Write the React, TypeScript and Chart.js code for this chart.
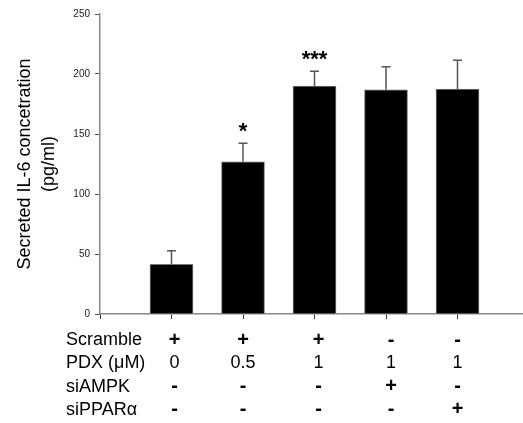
import React, { useEffect, useRef } from "react";
import { Chart, registerables } from "chart.js";

Chart.register(...registerables);

const groups = [1, 2, 3, 4, 5];
const means = [41.4, 126.9, 190.0, 186.9, 187.5];
const errors = [11.4, 15.3, 12.2, 19.2, 23.9];
const stars = ["", "*", "***", "", ""];
const rowLabels = ["Scramble", "PDX (\u03bcM)", "siAMPK", "siPPAR\u03b1"];
const scramble = ["+", "+", "+", "-", "-"];
const pdx = ["0", "0.5", "1", "1", "1"];
const siAMPK = ["-", "-", "-", "+", "-"];
const siPPAR = ["-", "-", "-", "-", "+"];
const yTicks = [0, 50, 100, 150, 200, 250];

const FONT = "Arial, 'Liberation Sans', sans-serif";

export default function App() {
  const ref = useRef<HTMLCanvasElement | null>(null);

  useEffect(() => {
    const canvas = ref.current;
    if (!canvas) return;

    const overlay = {
      id: "overlay",
      afterDatasetsDraw(chart: any) {
        const ctx = chart.ctx;
        const xs = chart.scales.x;
        const ys = chart.scales.y;
        ctx.save();
        ctx.strokeStyle = "#555";
        ctx.lineWidth = 1.5;
        groups.forEach((g, i) => {
          const x = xs.getPixelForValue(g);
          const y0 = ys.getPixelForValue(means[i]);
          const y1 = ys.getPixelForValue(means[i] + errors[i]);
          ctx.beginPath();
          ctx.moveTo(x, y0);
          ctx.lineTo(x, y1);
          ctx.moveTo(x - 4.5, y1);
          ctx.lineTo(x + 4.5, y1);
          ctx.stroke();
          if (stars[i]) {
            ctx.fillStyle = "#000";
            ctx.font = `bold 22px ${FONT}`;
            ctx.textAlign = "center";
            ctx.textBaseline = "middle";
            ctx.fillText(stars[i], x, y1 - 11);
          }
        });
        ctx.restore();
      },
      afterDraw(chart: any) {
        const ctx = chart.ctx;
        const xs = chart.scales.x;
        const bottom = chart.chartArea.bottom;
        const colOffsets = [3, 0, 4, 5, 0];
        const rows = [scramble, pdx, siAMPK, siPPAR];
        ctx.save();
        ctx.fillStyle = "#000";
        ctx.font = `18px ${FONT}`;
        ctx.textBaseline = "middle";
        rows.forEach((row, r) => {
          const y = bottom + 26 + r * 23.3;
          ctx.textAlign = "left";
          ctx.fillText(rowLabels[r], 66, y);
          ctx.textAlign = "center";
          row.forEach((v, i) => {
            const x = xs.getPixelForValue(groups[i]) + colOffsets[i];
            ctx.font = v === "+" || v === "-" ? `bold 20px ${FONT}` : `18px ${FONT}`;
            ctx.fillText(v, x, y);
          });
          ctx.font = `18px ${FONT}`;
        });
        ctx.restore();
      },
    };

    const chart = new Chart(canvas, {
      type: "bar",
      data: {
        datasets: [
          {
            data: groups.map((g, i) => ({ x: g, y: means[i] })),
            backgroundColor: "#000",
            borderColor: "#777",
            borderWidth: 1,
            barThickness: 43,
          },
        ],
      },
      options: {
        animation: false,
        responsive: false,
        maintainAspectRatio: false,
        layout: { padding: { top: 14, left: 0, right: 0, bottom: 0 } },
        plugins: {
          legend: { display: false },
          tooltip: { enabled: false },
        },
        scales: {
          x: {
            type: "linear",
            min: 0,
            max: 5.916,
            offset: false,
            afterFit(scale: any) {
              scale.height = 109;
            },
            border: { display: true, color: "#888", width: 1.5 },
            grid: {
              display: true,
              offset: false,
              drawOnChartArea: false,
              drawTicks: true,
              tickLength: 5,
              color: "#333",
            },
            ticks: {
              stepSize: 1,
              includeBounds: false,
              display: false,
            },
          },
          y: {
            min: 0,
            max: 250,
            afterFit(scale: any) {
              scale.width = 100;
            },
            afterBuildTicks(scale: any) {
              scale.ticks = yTicks.map((v) => ({ value: v }));
            },
            border: { display: true, color: "#888", width: 1.5 },
            grid: {
              display: true,
              drawOnChartArea: false,
              drawTicks: true,
              tickLength: 5,
              color: "#555",
            },
            ticks: {
              color: "#1a1a1a",
              font: { family: FONT, size: 10 },
              padding: 5,
            },
            title: {
              display: true,
              text: ["Secreted IL-6 concetration", "(pg/ml)"],
              color: "#000",
              font: { family: FONT, size: 18, lineHeight: 1.35 },
              padding: { top: 13, bottom: 0 },
            },
          },
        },
      },
      plugins: [overlay],
    });

    return () => chart.destroy();
  }, []);

  return (
    <div style={{ position: "absolute", left: 0, top: 0, width: 523, height: 423, background: "#fff" }}>
      <canvas ref={ref} width={523} height={423} style={{ width: 523, height: 423, display: "block" }} />
    </div>
  );
}
